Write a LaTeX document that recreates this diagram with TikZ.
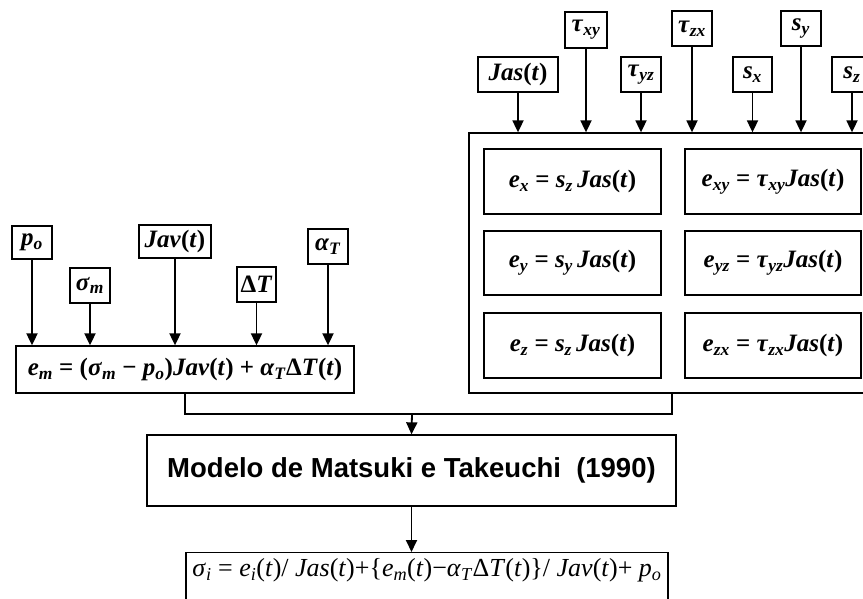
\documentclass[tikz,border=0pt]{standalone}
\usepackage{fontspec}
\setmainfont{Liberation Serif}
\setsansfont{Liberation Sans}
\usetikzlibrary{arrows.meta,positioning}

% bold italic variables, upright signs
\newcommand{\mv}[1]{\textit{#1}}
\newcommand{\ms}[1]{\textsubscript{\textit{#1}}}

\tikzset{
  box/.style={draw, line width=1.3pt, inner sep=0pt,
    font=\fontsize{25}{27}\selectfont\bfseries},
  feed/.style={line width=1.8pt, -{Triangle[length=12pt,width=11pt]}},
}

\begin{document}
\begin{tikzpicture}[x=1pt,y=-1pt]
    \useasboundingbox (0,0) rectangle (863,598);

    % Mean stress inputs
    \node[box, minimum width=40, minimum height=33] (po) at (32,242.5) {\mv{p}\ms{o}};
    \node[box, minimum width=40, minimum height=35] (sigm) at (90,285.5) {\mv{σ}\ms{m}};
    \node[box, minimum width=72, minimum height=33] (jav) at (175,241.5) {\mv{Jav}(\mv{t})};
    \node[box, minimum width=39, minimum height=35] (dtemp) at (256.5,284.5) {Δ\mv{T}};
    \node[box, minimum width=40, minimum height=35] (alpha) at (328,246.5) {\mv{α}\ms{T}};

    \node[box, minimum width=338, minimum height=47] (em) at (185,369.5)
        {\mv{e}\ms{m} = (\mv{σ}\ms{m} − \mv{p}\ms{o})\mv{Jav}(\mv{t}) + \mv{α}\ms{T}Δ\mv{T}(\mv{t})};

    \foreach \n in {po,sigm,jav,dtemp,alpha}
        \draw[feed] (\n.south) -- (\n.south |- em.north);

    % Deviatoric inputs
    \node[box, minimum width=80, minimum height=35] (jas) at (518,74.5) {\mv{Jas}(\mv{t})};
    \node[box, minimum width=42, minimum height=36] (txy) at (586,30) {\mv{τ}\ms{xy}};
    \node[box, minimum width=40, minimum height=35] (tyz) at (641,74.5) {\mv{τ}\ms{yz}};
    \node[box, minimum width=40, minimum height=35] (tzx) at (692,28.5) {\mv{τ}\ms{zx}};
    \node[box, minimum width=39, minimum height=35] (sx) at (752.5,74.5) {\mv{s}\ms{x}};
    \node[box, minimum width=40, minimum height=35] (sy) at (801,28.5) {\mv{s}\ms{y}};
    \node[box, minimum width=40, minimum height=35] (sz) at (852,74.5) {\mv{s}\ms{z}};

    \node[box, minimum width=406, minimum height=260] (grp) at (672,263) {};

    \foreach \n in {jas,txy,tyz,tzx,sx,sy,sz}
        \draw[feed] (\n.south) -- (\n.south |- grp.north);

    % Strain components
    \node[box, minimum width=177, minimum height=65] (ex) at (572.5,181.5) {\mv{e}\ms{x} = \mv{s}\ms{z}\,\mv{Jas}(\mv{t})};
    \node[box, minimum width=176, minimum height=65] (exy) at (773,181.5) {\mv{e}\ms{xy} = \mv{τ}\ms{xy}\mv{Jas}(\mv{t})};
    \node[box, minimum width=177, minimum height=64] (ey) at (572.5,263) {\mv{e}\ms{y} = \mv{s}\ms{y}\,\mv{Jas}(\mv{t})};
    \node[box, minimum width=176, minimum height=64] (eyz) at (773,263) {\mv{e}\ms{yz} = \mv{τ}\ms{yz}\mv{Jas}(\mv{t})};
    \node[box, minimum width=177, minimum height=65] (ez) at (572.5,345.5) {\mv{e}\ms{z} = \mv{s}\ms{z}\,\mv{Jas}(\mv{t})};
    \node[box, minimum width=176, minimum height=65] (ezx) at (773,345.5) {\mv{e}\ms{zx} = \mv{τ}\ms{zx}\mv{Jas}(\mv{t})};

    % Model
    \node[box, minimum width=529, minimum height=71,
        font=\fontsize{27.5}{30}\selectfont\sffamily\bfseries] (model) at (411.5,470.5)
        {Modelo de Matsuki e Takeuchi\ \ (1990)};

    \coordinate (join) at (412,414);
    \draw[line width=1.8pt] (em.south) |- (join) -| (grp.south);
    \draw[feed] (join) -- (model.north);

    % Result
    \node[box, anchor=north, minimum width=482, text height=24pt, text depth=40pt,
        font=\fontsize{26}{28}\selectfont] (res) at (427,552)
        {\mv{σ}\ms{i} = \mv{e}\ms{i}(\mv{t})/ \mv{Jas}(\mv{t})+\{\mv{e}\ms{m}(\mv{t})−\mv{α}\ms{T}Δ\mv{T}(\mv{t})\}/ \mv{Jav}(\mv{t})+ \mv{p}\ms{o}};
    \draw[feed] (model.south) -- (model.south |- res.north);
\end{tikzpicture}
\end{document}
